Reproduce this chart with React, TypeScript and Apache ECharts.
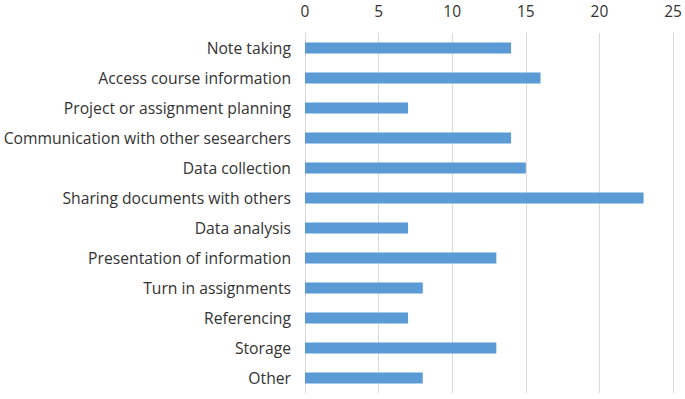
import React, { useEffect, useRef } from "react";
import * as echarts from "echarts";

const categories = [
  "Note taking",
  "Access course information",
  "Project or assignment planning",
  "Communication with other sesearchers",
  "Data collection",
  "Sharing documents with others",
  "Data analysis",
  "Presentation of information",
  "Turn in assignments",
  "Referencing",
  "Storage",
  "Other",
];
const values = [14, 16, 7, 14, 15, 23, 7, 13, 8, 7, 13, 8];
const xTicks = { min: 0, max: 25, interval: 5 };

export default function App() {
  const ref = useRef<HTMLDivElement>(null);
  useEffect(() => {
    if (!ref.current) return;
    const chart = echarts.init(ref.current, undefined, { renderer: "svg" });
    chart.setOption({
      animation: false,
      backgroundColor: "#ffffff",
      grid: { left: 305, right: 12, top: 33, bottom: 6, containLabel: false },
      xAxis: {
        type: "value",
        position: "top",
        min: xTicks.min,
        max: xTicks.max,
        interval: xTicks.interval,
        axisLine: { show: false },
        axisTick: { show: false },
        axisLabel: {
          margin: 14,
          fontSize: 15.5,
          color: "#333333",
          fontFamily: "Open Sans",
        },
        splitLine: { show: true, lineStyle: { color: "#d9d9d9", width: 1 } },
      },
      yAxis: {
        type: "category",
        inverse: true,
        data: categories,
        axisLine: { show: true, lineStyle: { color: "#d9d9d9", width: 1 } },
        axisTick: { show: false },
        axisLabel: {
          margin: 14,
          fontSize: 15.7,
          color: "#333333",
          fontFamily: "Open Sans",
        },
      },
      series: [
        {
          type: "bar",
          data: values,
          barWidth: 11,
          itemStyle: { color: "#5b9bd5" },
        },
      ],
    });
    return () => chart.dispose();
  }, []);
  return (
    <div
      ref={ref}
      style={{ position: "fixed", left: 0, top: 0, width: 685, height: 399 }}
    />
  );
}
